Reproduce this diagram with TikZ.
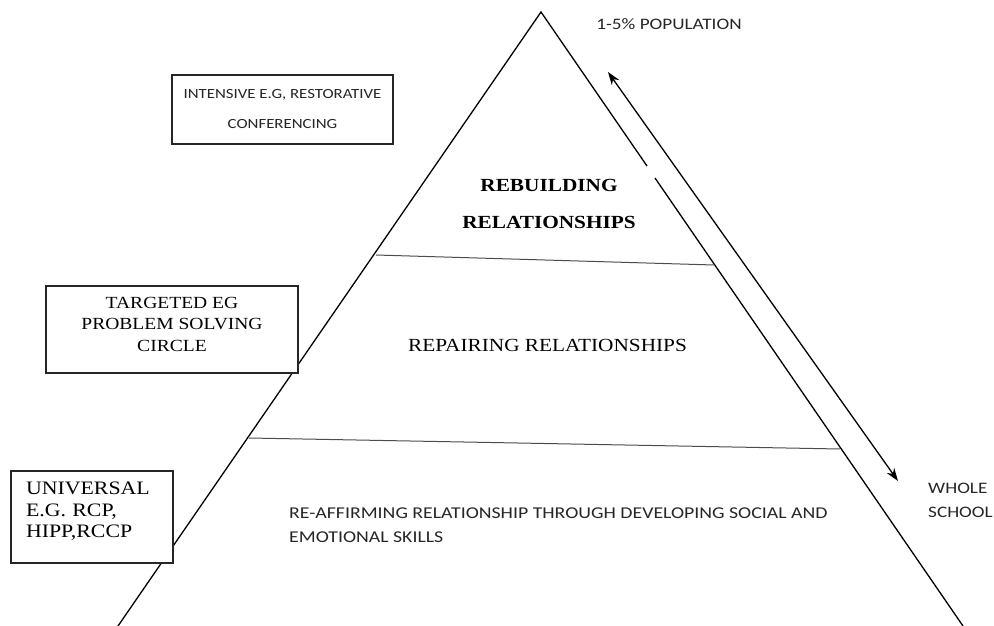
\documentclass[tikz,border=0pt]{standalone}
\usepackage{fontspec}
\setmainfont{Liberation Serif}[FakeStretch=1.15]
\newfontfamily\labelfont{Carlito}[FakeStretch=1.2]
\usetikzlibrary{arrows.meta}

\tikzset{
  tierbox/.style={draw=black!85, line width=1.2pt, fill=white, inner sep=0pt},
  sanstext/.style={text=black!85, inner sep=0pt},
  seriftext/.style={text=black, inner sep=0pt},
  tipend/.style={line width=1.3pt, {Stealth[length=13pt,width=9pt]}-{Stealth[length=13pt,width=9pt]}}
}

\begin{document}
\begin{tikzpicture}[x=1pt,y=-1pt]
\useasboundingbox (0,0) rectangle (994,626);
\coordinate (apex) at (541,12);
\coordinate (baseL) at (118,626);
\coordinate (baseR) at (963,626);
\draw[line width=1.3pt] (baseL) -- (apex) -- (647,166);
\draw[line width=1.3pt] (655,178) -- (baseR);
% the two tier dividers
\draw[black!70, line width=1pt] (376,255) -- (714,265);
\draw[black!70, line width=1pt] (249,438) -- (840,449);

\node[tierbox, seriftext, minimum width=252pt, minimum height=87pt, align=center, text depth=11pt,
  font=\fontsize{17}{21.5}\selectfont] (targeted) at (172,329.5)
  {TARGETED EG\\PROBLEM SOLVING\\CIRCLE};
\node[tierbox, seriftext, minimum height=92pt, inner xsep=15pt, text width=132pt, align=left, text depth=57.5pt,
  font=\fontsize{19}{21.5}\selectfont] (universal) at (92,517)
  {UNIVERSAL\\E.G. RCP,\\HIPP,RCCP};
\node[tierbox, sanstext, minimum width=221pt, minimum height=69pt, align=center,
  font=\labelfont\fontsize{14}{30}\selectfont] (intensive) at (282.5,109.5)
  {INTENSIVE E.G, RESTORATIVE\\CONFERENCING};

\node[seriftext, align=center, font=\bfseries\fontsize{18.5}{37}\selectfont] (rebuild) at (549,203.5)
  {REBUILDING\\RELATIONSHIPS};
\node[seriftext, font=\fontsize{18.5}{22}\selectfont] (repair) at (547.5,345) {REPAIRING RELATIONSHIPS};
\node[sanstext, anchor=west, align=left, font=\labelfont\fontsize{16.5}{24}\selectfont] (reaffirm) at (289,525)
  {RE-AFFIRMING RELATIONSHIP THROUGH DEVELOPING SOCIAL AND\\EMOTIONAL SKILLS};

\node[sanstext, font=\labelfont\fontsize{16}{24}\selectfont] (few) at (669,24) {1-5\% POPULATION};
\node[sanstext, anchor=west, align=left, font=\labelfont\fontsize{16}{24}\selectfont] (whole) at (928,500)
  {WHOLE\\SCHOOL};

\coordinate (fewEnd) at (608,72);
\coordinate (wholeEnd) at (898,481);
\draw[tipend] (fewEnd) -- (wholeEnd);
\end{tikzpicture}
\end{document}
